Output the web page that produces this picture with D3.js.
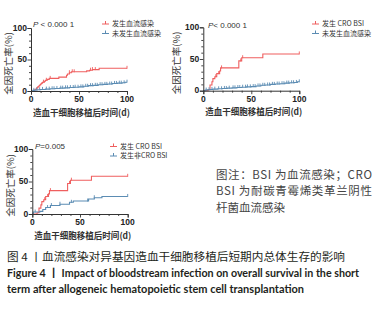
<!DOCTYPE html>
<html><head><meta charset="utf-8">
<script src="https://cdn.jsdelivr.net/npm/d3@7"></script>
<style>body{margin:0;background:#fff;position:relative;width:383px;height:311px}svg{display:block}
.tl{position:absolute;font-family:'Liberation Sans',Arial,sans-serif;font-size:8.5px;font-weight:bold;color:#222;line-height:1;white-space:nowrap}</style>
</head><body>
<script>
// ---------- data ----------
const xTicks = [0, 50, 100];
const yTicks = [0, 50, 100];
const minorTicks = [10,20,30,40,60,70,80,90];

// 发生血流感染 (panel 1)
const bsiT = [0,3,5,6,7,8,9,10,11,12,14,15,17,19,29,37,38,40,42,58,61,64,71];
const bsiV = [0,1.5,3,5,6.5,8,9.5,11,12.5,14,15.5,17,18.5,20,22,25,27,29,30.5,32,33,34,36];
const bsiC = [13,16,20,40,43,45,62,64,67,100];

// 未发生血流感染 (panels 1,2)
const noT = [0,2,4,7,10,15,20,25,30,35,40,45,50,55,60,65,70,75,80,85,90,95,98];
const noV = [0,1,1.5,2,2.5,3,3.5,4,4.5,5,5.5,6,6.5,7.5,8.5,9,10,10.5,11,12,12.5,13,14];
const noC = [3,6,9,12,16,19,22,24,27,31,33,36,38,41,44,46,49,52,54,57,59,62,64,67,69,72,74,77,79,82,84,87,89,92,94,97,100];

// 发生 CRO BSI (panels 2,3)
const croT = [0,5,7,9,10,12,14,17,18,37,40,62];
const croV = [0,2,9,14,19,22,27,31,36,47,52,58];
const croC = [13,16,19,39,41,100];

// 发生非CRO BSI (panel 3)
const nonT = [0,1,8,11,14,19,29,39,43,59,65,73];
const nonV = [0,3,4,7,10,13,15,18,20,23,25,27];
const nonC = [3,16,20,29,41,58,65,100];

const legend1 = ["发生血流感染", "未发生血流感染"];
const legend2 = ["发生 CRO BSI", "未发生血流感染"];
const legend3 = ["发生 CRO BSI", "发生非CRO BSI"];
const pTexts = [" < 0.000 1", "< 0.000 1", "=0.005"];
const xTitle = "造血干细胞移植后时间(d)";
const yTitle = "全因死亡率(%)";
const note = ["图注：BSI 为血流感染；CRO", "BSI 为耐碳青霉烯类革兰阴性", "杆菌血流感染"];
const caption = ["图 4 丨血流感染对异基因造血干细胞移植后短期内总体生存的影响",
  "Figure 4 丨 Impact of bloodstream infection on overall survival in the short",
  "term after allogeneic hematopoietic stem cell transplantation"];

// ---------- drawing ----------
const RED = "#ef5f5f", BLUE = "#5b8cb3", AX = "#333";
const FONT = "'Liberation Sans','Noto Sans CJK SC',sans-serif";
const CJK = "'Noto Sans CJK SC',sans-serif";
const svg = d3.select("body").append("svg").attr("width",383).attr("height",311);

function mk(t, v, c, color){ return {t, v, c, color}; }

const panels = [
  {x0:31, x1:127, yT:28, yB:91, ytx:8, px:33, py:24, lx:102, ly:23, leg:legend1, p:pTexts[0],
   series:[mk(bsiT,bsiV,bsiC,RED), mk(noT,noV,noC,BLUE)]},
  {x0:203.3, x1:299.3, yT:27.3, yB:90.7, ytx:176, px:208, py:25, lx:312, ly:23, leg:legend2, p:pTexts[1],
   series:[mk(croT,croV,croC,RED), mk(noT,noV,noC,BLUE)]},
  {x0:32.3, x1:127.7, yT:149, yB:214, ytx:10, px:35, py:146, lx:110, ly:145.5, leg:legend3, p:pTexts[2],
   series:[mk(croT,croV,croC,RED), mk(nonT,nonV,nonC,BLUE)]}
];
const labelLayer = [];

panels.forEach(P => {
  const g = svg.append("g");
  const x = d3.scaleLinear().domain([0,100]).range([P.x0, P.x1]);
  const y = d3.scaleLinear().domain([0,100]).range([P.yB, P.yT]);

  P.series.forEach(s => {
    const pts = s.t.map((t,i)=>[t, s.v[i]]);
    pts.push([100, s.v[s.v.length-1]]);
    const line = d3.line().x(d=>x(d[0])).y(d=>y(d[1])).curve(d3.curveStepAfter);
    g.append("path").attr("d", line(pts)).attr("fill","none")
      .attr("stroke", s.color).attr("stroke-width",1.1);
    const valAt = tt => { let v=0; s.t.forEach((t,i)=>{ if(t<=tt) v=s.v[i]; }); return v; };
    s.c.forEach(ct => {
      g.append("line").attr("x1",x(ct)).attr("x2",x(ct))
        .attr("y1",y(valAt(ct))-2.5).attr("y2",y(valAt(ct))+0.5)
        .attr("stroke", s.color).attr("stroke-width",0.9);
    });
  });

  g.append("g").attr("transform",`translate(0,${P.yB})`)
    .call(d3.axisBottom(x).tickValues(xTicks).tickSize(3.5).tickFormat(""));
  g.append("g").attr("transform",`translate(${P.x0},0)`)
    .call(d3.axisLeft(y).tickValues(yTicks).tickSize(3.5).tickFormat(""));
  g.append("g").attr("transform",`translate(0,${P.yB})`)
    .call(d3.axisBottom(x).tickValues(minorTicks).tickSize(2).tickFormat(""))
    .call(a=>a.select(".domain").remove());
  g.append("g").attr("transform",`translate(${P.x0},0)`)
    .call(d3.axisLeft(y).tickValues(minorTicks).tickSize(2).tickFormat(""))
    .call(a=>a.select(".domain").remove());
  g.selectAll(".domain").attr("stroke",AX).attr("stroke-width",1);
  g.selectAll(".tick line").attr("stroke",AX).attr("stroke-width",0.9);

  xTicks.forEach(v => labelLayer.push({x:x(v), y:P.yB+11.5, a:"middle", s:String(v)}));
  yTicks.forEach(v => labelLayer.push({x:P.x0-4, y:y(v)+3, a:"end", s:String(v)}));

  g.append("text").attr("x",P.x0+2).attr("y",P.yB+24.5).attr("font-family",CJK)
    .attr("font-size",9).attr("font-weight","bold").attr("fill","#333")
    .attr("textLength",97).attr("lengthAdjust","spacingAndGlyphs").text(xTitle);
  const yc = (P.yT+P.yB)/2 + 4;
  g.append("text").attr("transform",`translate(${P.ytx+3.5},${yc}) rotate(-90)`)
    .attr("text-anchor","middle").attr("font-family",CJK).attr("font-size",9.5)
    .attr("fill","#333").text(yTitle);

  const pt = g.append("text").attr("x",P.px).attr("y",P.py+3).attr("font-family",FONT)
    .attr("font-size",8).attr("fill","#333");
  pt.append("tspan").attr("font-style","italic").text("P");
  pt.append("tspan").text(P.p);

  P.leg.forEach((lab,i) => {
    const ly = P.ly + i*9.5;
    const col = P.series[i].color;
    g.append("line").attr("x1",P.lx).attr("x2",P.lx+7).attr("y1",ly+1).attr("y2",ly+1)
      .attr("stroke",col).attr("stroke-width",1);
    g.append("line").attr("x1",P.lx+3.5).attr("x2",P.lx+3.5).attr("y1",ly-2).attr("y2",ly+1)
      .attr("stroke",col).attr("stroke-width",1);
    g.append("text").attr("x",P.lx+10).attr("y",ly+3).attr("font-family",CJK)
      .attr("font-size",7).attr("fill","#333").text(lab);
  });
});

const noteLen = [156, 156, null];
note.forEach((s,i) => {
  const t = svg.append("text").attr("x",216).attr("y",178.5+i*16.7).attr("font-family",CJK)
    .attr("font-size",11.5).attr("fill","#444").text(s);
  if (noteLen[i]) t.attr("textLength",noteLen[i]).attr("lengthAdjust","spacing");
});

svg.append("text").attr("x",7).attr("y",260.5).attr("font-family",CJK).attr("font-size",11)
  .attr("fill","#231f20").attr("textLength",338).attr("lengthAdjust","spacingAndGlyphs").text(caption[0]);
svg.append("text").attr("x",7).attr("y",277).attr("font-family","Lato,'Noto Sans CJK SC',sans-serif")
  .attr("font-size",11).attr("font-weight","bold").attr("fill","#231f20")
  .attr("textLength",352).attr("lengthAdjust","spacingAndGlyphs").text(caption[1]);
svg.append("text").attr("x",7).attr("y",293).attr("font-family","Lato,sans-serif")
  .attr("font-size",11).attr("font-weight","bold").attr("fill","#231f20")
  .attr("textLength",297).attr("lengthAdjust","spacingAndGlyphs").text(caption[2]);

// tick labels as HTML overlay positioned from the scales
d3.select("body").selectAll("div.tl").data(labelLayer).join("div").attr("class","tl")
  .style("left", d=>d.x+"px").style("top", d=>(d.y-7.5)+"px")
  .style("transform", d=>d.a==="middle" ? "translateX(-50%)" : "translateX(-100%)")
  .text(d=>d.s);
</script>
</body></html>
